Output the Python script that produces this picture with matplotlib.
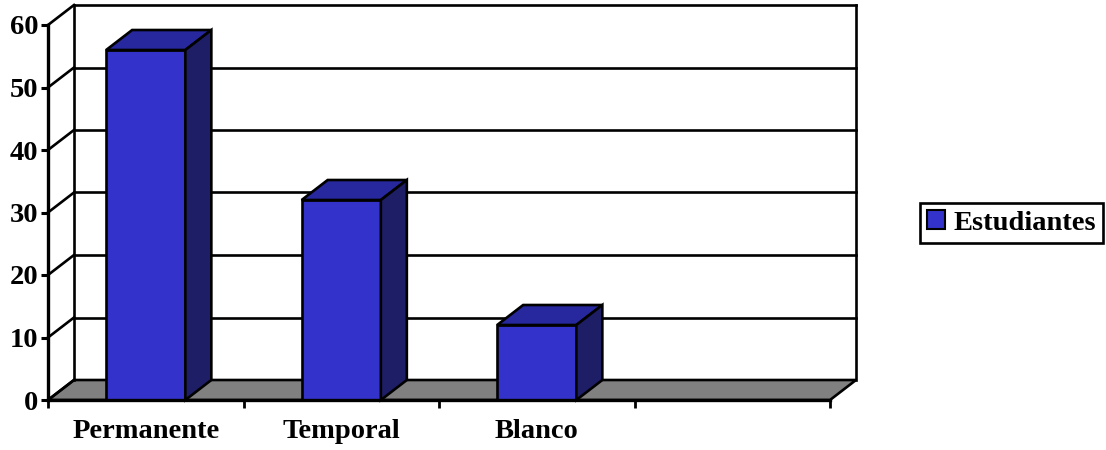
import numpy as np
import matplotlib
matplotlib.use("Agg")
from matplotlib import pyplot as plt
from matplotlib.patches import Polygon, Patch

# data
categories = ["Permanente", "Temporal", "Blanco", ""]
valores = [56, 32, 12, 0]
serie = "Estudiantes"
yticks = [0, 10, 20, 30, 40, 50, 60]

plt.rcParams["font.family"] = ["Liberation Serif", "DejaVu Serif"]
plt.rcParams["font.weight"] = "bold"

front = "#3333CC"
top_c = "#27279E"
side_c = "#1E1E66"
floor_c = "#808080"
fs = 20.5

fig = plt.figure(figsize=(11.06, 4.5), dpi=100)
W, H = 1106, 450
# axes = front plane of the 3d box
ax = fig.add_axes([48 / W, 50 / H, 782 / W, 375 / H])
n = len(categories)
ax.set_xlim(-0.5, n - 0.5)
ax.set_ylim(0, 60)

# depth offset in data units
dx = 26 / (782 / n)
dy = 20 / (375 / 60)
x0, x1 = -0.5, n - 0.5
lw = 1.9

# floor
ax.add_patch(Polygon([(x0, 0), (x1, 0), (x1 + dx, dy), (x0 + dx, dy)],
                     closed=True, facecolor=floor_c, edgecolor="black",
                     lw=lw, clip_on=False, zorder=1))
# back wall gridlines + left wall diagonals
for v in yticks:
    if v > 0:
        ax.plot([x0 + dx, x1 + dx], [v + dy, v + dy], color="black", lw=lw,
                clip_on=False, zorder=1)
    ax.plot([x0, x0 + dx], [v, v + dy], color="black", lw=lw,
            clip_on=False, zorder=1)
ax.plot([x0 + dx, x0 + dx], [dy, 60 + dy], color="black", lw=lw,
        clip_on=False, zorder=1)
ax.plot([x1 + dx, x1 + dx], [dy, 60 + dy], color="black", lw=lw,
        clip_on=False, zorder=1)

# bars
xs = np.arange(n)
bw = 0.405
ax.bar(xs, valores, width=bw, color=front, edgecolor="black", lw=lw,
       zorder=3, clip_on=False)
for x, v in zip(xs, valores):
    if v <= 0:
        continue
    l, r = x - bw / 2, x + bw / 2
    ax.add_patch(Polygon([(l, v), (r, v), (r + dx, v + dy), (l + dx, v + dy)],
                         closed=True, facecolor=top_c, edgecolor="black",
                         lw=lw, clip_on=False, zorder=3, joinstyle="miter"))
    ax.add_patch(Polygon([(r, 0), (r + dx, dy), (r + dx, v + dy), (r, v)],
                         closed=True, facecolor=side_c, edgecolor="black",
                         lw=lw, clip_on=False, zorder=3, joinstyle="miter"))

for s in ["top", "right"]:
    ax.spines[s].set_visible(False)
for s in ["left", "bottom"]:
    ax.spines[s].set_linewidth(2.4)
    ax.spines[s].set_zorder(4)
ax.set_facecolor("none")

ax.set_yticks(yticks)
ax.tick_params(axis="y", length=5, width=2.2, pad=2, labelsize=fs)
ax.set_xticks(xs)
ax.set_xticklabels(categories)
ax.set_xticks(np.arange(n + 1) - 0.5, minor=True)
ax.tick_params(axis="x", which="major", length=0, pad=14, labelsize=fs)
ax.tick_params(axis="x", which="minor", length=5.5, width=2)

leg = fig.legend(handles=[Patch(facecolor=front, edgecolor="black", lw=1.5)],
                 labels=[serie], loc="center left",
                 bbox_to_anchor=(920 / W, 1 - 223 / H),
                 prop={"size": fs, "weight": "bold"}, fancybox=False,
                 edgecolor="black", framealpha=1, handlelength=0.62,
                 handleheight=0.62, handletextpad=0.3, borderpad=0.25,
                 borderaxespad=0)
leg.get_frame().set_linewidth(1.9)

fig.savefig("out.png", dpi=100)
